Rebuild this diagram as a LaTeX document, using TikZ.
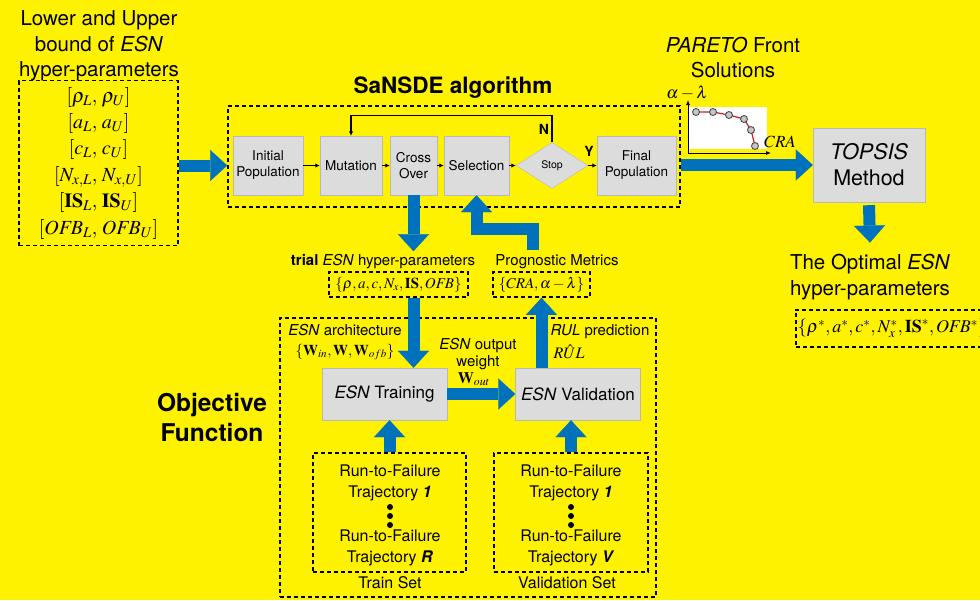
\documentclass[tikz,border=0pt]{standalone}
\usepackage{mathptmx}
\usepackage{fontspec}
\setmainfont{TeX Gyre Heros}
\usetikzlibrary{arrows.meta,shapes.geometric,positioning}

\definecolor{esnblue}{RGB}{0,114,188}
\definecolor{boxgray}{RGB}{220,220,220}
\definecolor{boxline}{RGB}{185,185,185}
\definecolor{paretored}{RGB}{205,30,30}

\newcommand{\fsz}[2]{\fontsize{#1}{#2}\selectfont}

\tikzset{
  stagebox/.style={draw=boxline, fill=boxgray, align=center, inner sep=0pt, font=\fsz{13.5}{16}},
  dashbox/.style={draw, dash pattern=on 4pt off 3pt, line width=1.6pt, inner sep=2pt},
  blockarrow/.style={draw=esnblue, line width=12pt, -{Triangle[width=31pt,length=17pt,line width=0.1pt]}},
  thinarrow/.style={line width=1.2pt, -{Latex[length=4.5pt,width=4.5pt]}},
}

\begin{document}
\begin{tikzpicture}[x=1pt, y=-1pt]
\fill[yellow] (0,0) rectangle (980,600);
\useasboundingbox (0,0) rectangle (980,600);

% search bounds
\node[font=\fsz{20.5}{25.5}, align=center] (boundtitle) at (99,46) {Lower and Upper\\bound of \textit{ESN}\\hyper-parameters};
\node[dashbox, minimum width=159, minimum height=165, align=center, font=\fsz{20}{26.4}] (bounds) at (98.5,163)
  {$[\rho_L,\,\rho_U]$\\$[a_L,\,a_U]$\\$[c_L,\,c_U]$\\$[N_{x,L},\,N_{x,U}]$\\$[\mathbf{IS}_L,\,\mathbf{IS}_U]$\\$[\mathit{OFB}_L,\,\mathit{OFB}_U]$};

% SaNSDE loop
\node[font=\bfseries\fsz{22.5}{27}] (algtitle) at (453,88) {SaNSDE algorithm};
\node[dashbox, minimum width=452, minimum height=101] (alg) at (454,156.5) {};
\node[stagebox, minimum width=70, minimum height=59] (init) at (268,165.5) {Initial\\Population};
\node[stagebox, minimum width=62, minimum height=59] (mut) at (351,165.5) {Mutation};
\node[stagebox, minimum width=47, minimum height=59] (co) at (413.5,165.5) {Cross\\Over};
\node[stagebox, minimum width=65, minimum height=59] (sel) at (476.5,165.5) {Selection};
\node[stagebox, diamond, aspect=1.6, minimum width=72, minimum height=46, font=\fsz{10.5}{12}] (stop) at (552,165.5) {Stop};
\node[stagebox, minimum width=79, minimum height=59] (final) at (636.5,165.5) {Final\\Population};
\foreach \a/\b in {init/mut, mut/co, co/sel, sel/stop, stop/final}
  \draw[thinarrow] (\a) -- (\b);
\draw[thinarrow] (stop.north) -- ++(0,-27) -| (mut.north);
\node[font=\bfseries\fsz{14}{16}] (nlabel) at (544,129) {N};
\node[font=\bfseries\fsz{14}{16}] (ylabel) at (589,151) {Y};
\draw[blockarrow] (bounds.east |- init) -- (alg.west |- init);

% Pareto front
\node[align=center, font=\fsz{20.5}{25}] (paretotitle) at (733,57.5) {\textit{PARETO} Front\\Solutions};
\fill[white] (689,107) rectangle (767,149);
\draw[line width=0.9pt, -{Latex[length=5pt,width=4pt]}] (688,153) -- (688,100);
\draw[line width=0.9pt, -{Latex[length=5pt,width=4pt]}] (688,153) -- (771,153);
\node[font=\fsz{17}{20}] (alabel) at (687,93) {$\alpha-\lambda$};
\node[font=\fsz{17}{20}] (cralabel) at (780,142) {$CRA$};
\draw[paretored, line width=1.2pt] plot coordinates {(696,112) (713,112) (729,115) (744,119) (751,130) (755,146)};
\foreach \p in {(696,112), (713,112), (729,115), (744,119), (751,130), (755,146)}
  \filldraw[fill=gray!45, draw=black!75, line width=0.8pt] \p circle (3.5);

% TOPSIS and the optimum
\node[stagebox, minimum width=112, minimum height=74, font=\fsz{21.5}{26}] (topsis) at (869,165) {\textit{TOPSIS}\\Method};
\draw[blockarrow] (alg.east |- topsis) -- (topsis.west);
\node[align=center, font=\fsz{20.5}{26}] (optimal) at (870,277) {The Optimal \textit{ESN}\\hyper-parameters};
\draw[blockarrow] ([yshift=-3pt]topsis.south) -- ([yshift=8pt]optimal.north);
\node[dashbox, anchor=west, minimum height=37, font=\fsz{18}{22}] (optbox) at (795,328.5)
  {$\{\rho^*, a^*, c^*, N_x^*, \mathbf{IS}^*, \mathit{OFB}^*\}$};

% trial parameters and metrics
\node[font=\fsz{15}{18}] (trial) at (383,262) {\textbf{trial} \textit{ESN} hyper-parameters};
\node[dashbox, minimum width=139, minimum height=25, font=\fsz{15}{18}] (trialbox) at (398.5,284.5) {$\{\rho, a, c, N_x, \mathbf{IS}, \mathit{OFB}\}$};
\node[font=\fsz{15}{18}] (pm) at (557,262) {Prognostic Metrics};
\node[dashbox, minimum width=97, minimum height=25, font=\fsz{15}{18}] (pmbox) at (541.5,284.5) {$\{CRA, \alpha-\lambda\}$};
\draw[blockarrow] (co.south) -- (trial.north -| co.south);
\coordinate (pmtop) at (533,250);
\draw[blockarrow] (pmtop) -- ++(0,-21) -| (sel.south);

% objective function
\node[dashbox, minimum width=376, minimum height=279] (objective) at (468,457.5) {};
\node[font=\bfseries\fsz{24.5}{30}, align=center] (objtitle) at (212,417) {Objective\\Function};
\node[stagebox, minimum width=125, minimum height=52, font=\fsz{17}{20}] (train) at (384.5,394) {\textit{ESN} Training};
\node[stagebox, minimum width=125, minimum height=52, font=\fsz{17}{20}] (val) at (578,394) {\textit{ESN} Validation};
\draw[blockarrow] (trialbox.south -| co.south) -- (train.north -| co.south);
\draw[blockarrow] (train.east) -- (val.west);
\draw[blockarrow] (val.north -| pmbox.south) -- (pmbox.south);
\node[font=\fsz{15}{20}, align=center] (archlabel) at (345,342) {\textit{ESN} architecture\\$\{\mathbf{W}_{in}, \mathbf{W}, \mathbf{W}_{ofb}\}$};
\node[font=\fsz{15}{17}, align=center] (outlabel) at (478,354) {\textit{ESN} output\\weight};
\node[font=\fsz{16}{18}] (woutlabel) at (474,379) {$\mathbf{W}_{out}$};
\node[font=\fsz{15}{18}] (rullabel) at (600,332) {\textit{RUL} prediction};
\node[font=\fsz{16}{18}] (rulhat) at (569,352) {$R\hat{U}L$};

% data sets
\node[dashbox, minimum width=153, minimum height=119] (trainset) at (389.5,512.5) {};
\node[font=\fsz{16}{21}, align=center] (traintop) at (390,482.5) {Run-to-Failure\\Trajectory \textbf{\textit{1}}};
\node[font=\fsz{16}{21}, align=center] (trainbot) at (390,547.5) {Run-to-Failure\\Trajectory \textbf{\textit{R}}};
\node[font=\fsz{16}{18}] (trainsetlabel) at (390,583) {Train Set};
\node[dashbox, minimum width=154, minimum height=119] (valset) at (571,512.5) {};
\node[font=\fsz{16}{21}, align=center] (valtop) at (571,482.5) {Run-to-Failure\\Trajectory \textbf{\textit{1}}};
\node[font=\fsz{16}{21}, align=center] (valbot) at (571,547.5) {Run-to-Failure\\Trajectory \textbf{\textit{V}}};
\node[font=\fsz{16}{18}] (valsetlabel) at (567,583) {Validation Set};
\foreach \y in {507,516,525} {
  \fill (390,\y) circle (3);
  \fill (571,\y) circle (3);
}
\draw[blockarrow] (trainset.north) -- (trainset.north |- train.south);
\draw[blockarrow] (valset.north) -- (valset.north |- val.south);
\end{tikzpicture}
\end{document}
